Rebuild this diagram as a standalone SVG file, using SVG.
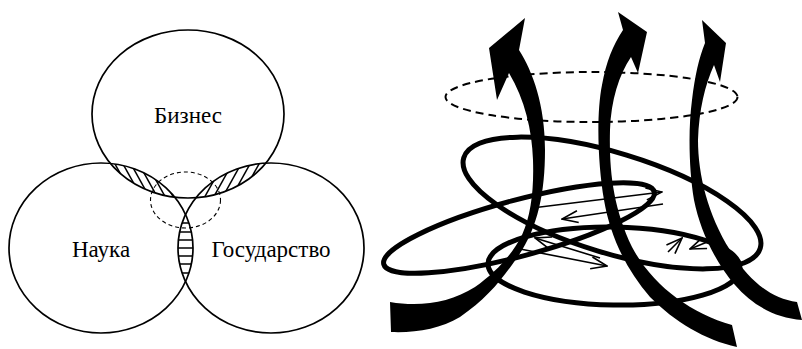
<svg xmlns="http://www.w3.org/2000/svg" width="802" height="349" viewBox="0 0 802 349">
<style>
.v{fill:none;stroke:#000;stroke-width:1.7}
.dash{fill:none;stroke:#000;stroke-width:1.1;stroke-dasharray:4 3}
.h{stroke:#000;stroke-width:1.5}
.lbl{font-family:"Liberation Serif","Times New Roman",serif;font-size:23px;fill:#000;text-anchor:middle}
.loop{fill:none;stroke:#000;stroke-width:5}
.big{fill:#000}
.thin{fill:none;stroke:#000;stroke-width:1.6;marker-end:url(#oa)}
.hdash{fill:none;stroke:#000;stroke-width:2;stroke-dasharray:8 5}
</style>
<defs>
<clipPath id="cT"><ellipse cx="188" cy="114" rx="96" ry="84"/></clipPath>
<clipPath id="cL"><ellipse cx="101" cy="248" rx="92" ry="85"/></clipPath>
<clipPath id="cR"><ellipse cx="271" cy="248" rx="93" ry="85"/></clipPath>
<marker id="oa" viewBox="0 0 18 14" refX="17" refY="7" markerWidth="18" markerHeight="14" markerUnits="userSpaceOnUse" orient="auto"><path d="M1,1 L17,7 L1,13" fill="none" stroke="#000" stroke-width="1.6"/></marker>
</defs>

<g id="hatching">
<g clip-path="url(#cT)"><g clip-path="url(#cL)">
<line class="h" x1="110" y1="155" x2="135" y2="200"/>
<line class="h" x1="118" y1="155" x2="143" y2="200"/>
<line class="h" x1="126" y1="155" x2="151" y2="200"/>
<line class="h" x1="134" y1="155" x2="159" y2="200"/>
<line class="h" x1="142" y1="155" x2="167" y2="200"/>
<line class="h" x1="150" y1="155" x2="175" y2="200"/>
</g></g>
<g clip-path="url(#cT)"><g clip-path="url(#cR)">
<line class="h" x1="203" y1="200" x2="228" y2="155"/>
<line class="h" x1="212" y1="200" x2="237" y2="155"/>
<line class="h" x1="221" y1="200" x2="246" y2="155"/>
<line class="h" x1="230" y1="200" x2="255" y2="155"/>
<line class="h" x1="239" y1="200" x2="264" y2="155"/>
</g></g>
<g clip-path="url(#cL)"><g clip-path="url(#cR)">
<line class="h" x1="170" y1="223" x2="200" y2="223"/>
<line class="h" x1="170" y1="232" x2="200" y2="232"/>
<line class="h" x1="170" y1="240" x2="200" y2="240"/>
<line class="h" x1="170" y1="248" x2="200" y2="248"/>
<line class="h" x1="170" y1="256" x2="200" y2="256"/>
<line class="h" x1="170" y1="264" x2="200" y2="264"/>
<line class="h" x1="170" y1="273" x2="200" y2="273"/>
</g></g>
</g>

<g id="business">
<ellipse class="v" cx="188" cy="114" rx="96" ry="84"/>
<text class="lbl" x="188" y="123">Бизнес</text>
</g>
<g id="science">
<ellipse class="v" cx="101" cy="248" rx="92" ry="85"/>
<text class="lbl" x="101" y="257">Наука</text>
</g>
<g id="state">
<ellipse class="v" cx="271" cy="248" rx="93" ry="85"/>
<text class="lbl" x="271" y="257">Государство</text>
</g>
<g id="core">
<ellipse class="dash" cx="185.5" cy="200" rx="35" ry="28"/>
</g>

<g id="flows">
<ellipse class="hdash" cx="591.5" cy="97" rx="146" ry="25"/>
<ellipse class="loop" cx="612" cy="203" rx="155" ry="50" transform="rotate(17 612 203)"/>
<ellipse class="loop" cx="519" cy="228" rx="140" ry="28" transform="rotate(-15 519 228)"/>
<ellipse class="loop" cx="614" cy="266" rx="126" ry="39" transform="rotate(1 614 266)"/>
<path class="big" d="M525,18 L519,50 C533,72 545,105 545,150 C545,195 537,232 514,262 C500,282 485,300 460,317 C440,329 415,333 391,332 L390,302 C420,307 450,303 475,287 C495,273 512,255 522,235 C531,215 534,190 533,160 C532,130 525,100 509,73 L497,100 L489,48 Z"/>
<path class="big" d="M618,12 L647,32 L638,73 L631,57 C619,75 611,100 610,130 C609,170 613,207 632,247 C652,285 690,313 732,325 L737,347 C705,340 675,322 650,297 C625,268 610,235 604,200 C598,165 596,115 602,85 C606,62 613,45 623,30 Z"/>
<path class="big" d="M702,20 L726,43 L720,82 L714,65 C705,85 699,110 698,140 C698,175 708,215 730,250 C748,280 770,298 797,302 L802,320 C775,318 752,305 735,285 C715,262 700,230 694,200 C689,170 688,130 692,100 C695,75 699,58 705,43 Z"/>
<path class="thin" d="M532,208 L662,192"/>
<path class="thin" d="M663,204 L562,219"/>
<path class="thin" d="M515,248 L607,266"/>
<path class="thin" d="M600,258 L535,238"/>
<path class="thin" d="M668,252 L682,238"/>
<path class="thin" d="M717,238 L690,249"/>
</g>
</svg>
